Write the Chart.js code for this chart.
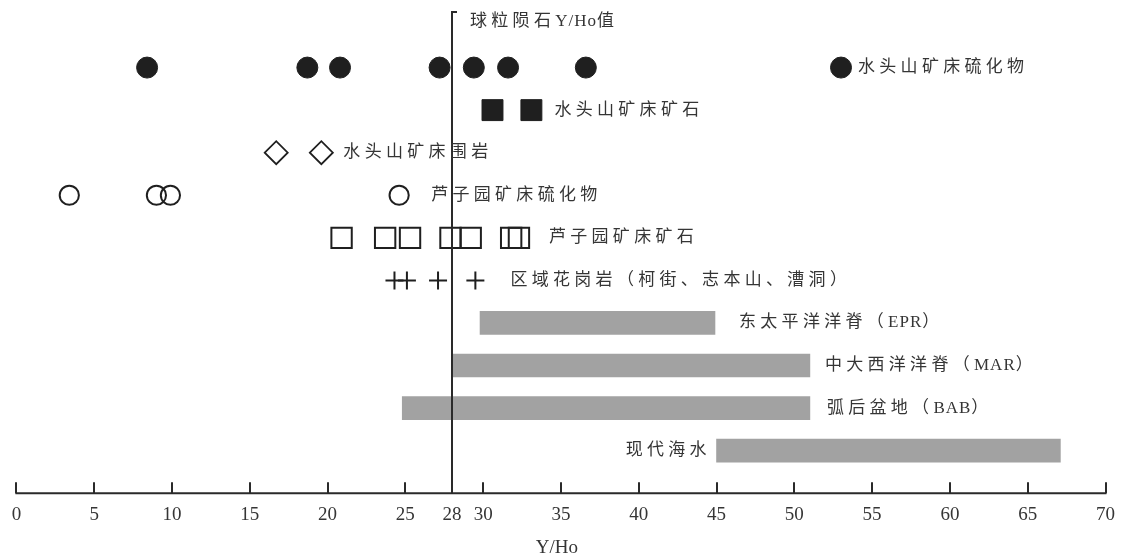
<!DOCTYPE html>
<html>
<head>
<meta charset="utf-8">
<script src="https://cdn.jsdelivr.net/npm/chart.js@4.4.1/dist/chart.umd.min.js"></script>
<style>
  html, body { margin: 0; padding: 0; background: #ffffff; }
  #wrap { width: 1125px; height: 556px; }
</style>
</head>
<body>
<div id="wrap"><canvas id="c" width="1125" height="556"></canvas></div>
<script>
// Y/Ho values per sample group (one row each, top to bottom)
const shsSulfide  = [8.4, 18.7, 20.8, 27.2, 29.4, 31.6, 36.6, 53.0];   // 水头山矿床硫化物
const shsOre      = [30.6, 33.1];                                      // 水头山矿床矿石
const shsWallRock = [16.7, 19.6];                                      // 水头山矿床围岩
const lzySulfide  = [3.4, 9.0, 9.9, 24.6];                             // 芦子园矿床硫化物
const lzyOre      = [20.9, 23.7, 25.3, 27.9, 29.2, 31.8, 32.3];        // 芦子园矿床矿石
const granite     = [24.3, 25.1, 27.1, 29.5];                          // 区域花岗岩

// Y/Ho ranges of reference reservoirs
const rangeLow  = [29.8, 28.0, 24.8, 45.0];
const rangeHigh = [44.9, 51.0, 51.0, 67.1];

const rowLabels = [
  '水头山矿床硫化物',
  '水头山矿床矿石',
  '水头山矿床围岩',
  '芦子园矿床硫化物',
  '芦子园矿床矿石',
  '区域花岗岩（柯街、志本山、漕洞）',
  '东太平洋洋脊（EPR）',
  '中大西洋洋脊（MAR）',
  '弧后盆地（BAB）',
  '现代海水'
];

const xTicks = [0, 5, 10, 15, 20, 25, 28, 30, 35, 40, 45, 50, 55, 60, 65, 70];
const chondriteYHo = 28;
const chondriteLabel = '球粒陨石Y/Ho值';
const axisTitle = 'Y/Ho';

const INK = '#1f1f1f';
const TEXT = '#353535';
const LABEL_FONT = '17px "Liberation Serif", "Noto Sans CJK SC", serif';
const NUM_FONT = '19px "Liberation Serif", serif';
const CJK_GAP = 4.3;   // extra tracking after each CJK glyph
const LATIN_GAP = 1;   // extra tracking after each Latin glyph

const rowOf = (vals, row) => vals.map(v => ({ x: v, y: row }));

const pointSets = [
  { vals: shsSulfide,  style: 'circle',  radius: 10.5, fill: INK,           width: 1 },
  { vals: shsOre,      style: 'rect',    radius: 14.8, fill: INK,           width: 1 },
  { vals: shsWallRock, style: 'rectRot', radius: 11.5, fill: 'rgba(0,0,0,0)', width: 1.8 },
  { vals: lzySulfide,  style: 'circle',  radius: 9.6,  fill: 'rgba(0,0,0,0)', width: 2 },
  { vals: lzyOre,      style: 'rect',    radius: 14.4, fill: 'rgba(0,0,0,0)', width: 2 },
  { vals: granite,     style: 'cross',   radius: 9,    fill: 'rgba(0,0,0,0)', width: 2 }
];

const datasets = pointSets.map((s, i) => ({
  type: 'scatter',
  data: rowOf(s.vals, i + 1),
  pointStyle: s.style,
  pointRadius: s.radius,
  pointHoverRadius: s.radius,
  pointBackgroundColor: s.fill,
  pointBorderColor: INK,
  pointBorderWidth: s.width,
  showLine: false,
  clip: false
}));

datasets.unshift({
  type: 'bar',
  indexAxis: 'y',
  data: rangeLow.map((lo, i) => ({ x: [lo, rangeHigh[i]], y: 7 + i })),
  backgroundColor: '#a2a2a2',
  borderWidth: 0,
  barThickness: 23,
  xAxisID: 'x',
  yAxisID: 'y'
});

// label offset (px) from the outermost mark of each row; negative = text sits left of the row
const labelOffsets = [17, 23, 22, 32, 30, 35, 24, 15, 17, -10];

// draws mixed CJK/Latin text with wide tracking on CJK glyphs only
function drawTracked(ctx, text, x, y, align) {
  const chars = Array.from(text);
  const gaps = chars.map(ch => (ch.codePointAt(0) > 0x2e80 ? CJK_GAP : LATIN_GAP));
  const widths = chars.map(ch => ctx.measureText(ch).width);
  const total = widths.reduce((a, w, i) => a + w + (i < chars.length - 1 ? gaps[i] : 0), 0);
  let cur = align === 'right' ? x - total : x;
  ctx.textAlign = 'left';
  chars.forEach((ch, i) => {
    ctx.fillText(ch, cur, y);
    cur += widths[i] + gaps[i];
  });
}

const decor = {
  id: 'decor',
  afterDatasetsDraw(chart) {
    const { ctx, chartArea, scales: { x, y } } = chart;
    const yb = chartArea.bottom;
    ctx.save();

    // axis line with upward ticks
    ctx.strokeStyle = '#2a2a2a';
    ctx.lineWidth = 2;
    ctx.beginPath();
    ctx.moveTo(x.getPixelForValue(xTicks[0]) - 1, yb);
    ctx.lineTo(x.getPixelForValue(xTicks[xTicks.length - 1]) + 1, yb);
    xTicks.forEach(v => {
      if (v === chondriteYHo) return;
      const px = Math.round(x.getPixelForValue(v));
      ctx.moveTo(px, yb);
      ctx.lineTo(px, yb - 11);
    });
    ctx.stroke();

    // chondrite reference line with bracket at the top
    const cx = Math.round(x.getPixelForValue(chondriteYHo));
    const topY = 12;
    ctx.beginPath();
    ctx.moveTo(cx, yb);
    ctx.lineTo(cx, topY);
    ctx.lineTo(cx + 5, topY);
    ctx.stroke();

    // axis title under the tick labels
    ctx.fillStyle = TEXT;
    ctx.font = NUM_FONT;
    ctx.textAlign = 'center';
    ctx.textBaseline = 'middle';
    ctx.fillText(axisTitle, (x.left + x.right) / 2 - 4, 548);

    ctx.font = LABEL_FONT;
    drawTracked(ctx, chondriteLabel, cx + 18, 22, 'left');

    // row labels
    const rowVals = [shsSulfide, shsOre, shsWallRock, lzySulfide, lzyOre, granite]
      .concat(rangeLow.map((lo, i) => [lo, rangeHigh[i]]));
    rowLabels.forEach((txt, i) => {
      const vals = rowVals[i];
      const off = labelOffsets[i];
      const py = y.getPixelForValue(i + 1);
      if (off >= 0) {
        drawTracked(ctx, txt, x.getPixelForValue(Math.max(...vals)) + off, py, 'left');
      } else {
        drawTracked(ctx, txt, x.getPixelForValue(Math.min(...vals)) + off, py, 'right');
      }
    });
    ctx.restore();
  }
};

new Chart(document.getElementById('c'), {
  type: 'scatter',
  data: { datasets },
  options: {
    responsive: false,
    animation: false,
    devicePixelRatio: 1,
    events: [],
    layout: { padding: { left: 15, right: 15.7, top: 25, bottom: 20 } },
    plugins: { legend: { display: false }, tooltip: { enabled: false } },
    scales: {
      x: {
        type: 'linear',
        min: 0,
        max: 70,
        offset: false,
        afterBuildTicks: scale => { scale.ticks = xTicks.map(v => ({ value: v })); },
        grid: { display: false, drawTicks: false },
        border: { display: false },
        ticks: {
          autoSkip: false,
          maxRotation: 0,
          padding: 10,
          color: TEXT,
          font: { family: '"Liberation Serif", serif', size: 19 }
        },
        title: { display: false }
      },
      y: {
        type: 'linear',
        reverse: true,
        min: 0,
        max: 11,
        offset: false,
        display: false
      }
    }
  },
  plugins: [decor]
});
</script>
</body>
</html>
